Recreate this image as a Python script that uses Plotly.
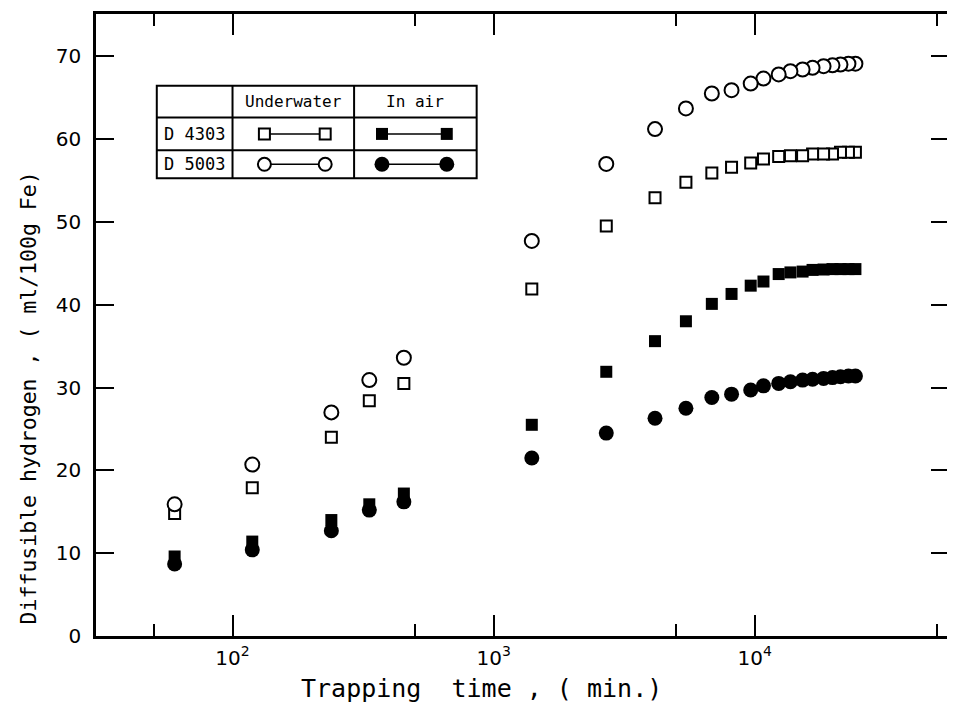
import plotly.graph_objects as go

# ---------------- data ----------------
times = [60, 119, 239, 334, 453,
         1400, 2700, 4150, 5450, 6850, 8150, 9650, 10800, 12350, 13700,
         15250, 16650, 18350, 19850, 21300, 22850, 24300]

d5003_underwater = [15.9, 20.7, 27.0, 30.9, 33.6,
                    47.7, 57.0, 61.2, 63.7, 65.5, 65.9, 66.7, 67.3, 67.8, 68.2,
                    68.4, 68.6, 68.8, 68.9, 69.0, 69.1, 69.1]
d4303_underwater = [14.8, 17.9, 24.0, 28.4, 30.5,
                    41.9, 49.5, 52.9, 54.8, 55.9, 56.6, 57.1, 57.6, 57.9, 58.0,
                    58.0, 58.2, 58.2, 58.2, 58.4, 58.4, 58.4]
d4303_air = [9.6, 11.4, 14.0, 15.9, 17.2,
             25.5, 31.9, 35.6, 38.0, 40.1, 41.3, 42.3, 42.8, 43.7, 43.9,
             44.0, 44.2, 44.25, 44.3, 44.3, 44.3, 44.3]
d5003_air = [8.7, 10.4, 12.7, 15.2, 16.2,
             21.5, 24.5, 26.3, 27.5, 28.8, 29.2, 29.7, 30.2, 30.5, 30.7,
             30.9, 31.0, 31.1, 31.2, 31.3, 31.4, 31.4]

y_ticks = [0, 10, 20, 30, 40, 50, 60, 70]
x_ticks = [100, 1000, 10000]
x_ticktext = ["10<sup>2</sup>", "10<sup>3</sup>", "10<sup>4</sup>"]
x_minor = [50, 500, 5000, 50000]

row_labels = ["D 4303", "D 5003"]
col_labels = ["Underwater", "In air"]

x_title = "Trapping  time , ( min.)"
y_title = "Diffusible hydrogen , ( ml/100g Fe)"

# ---------------- layout geometry (page pixels) ----------------
OFF = 8                       # page body margin of the html file
W, H = 955 - OFF, 707 - OFF
PL, PR, PT, PB = 96, 952, 11, 636
FONT = "DejaVu Sans Mono"
TICKFONT = "DejaVu Sans"
INK = "black"


def fx(px):
    return (px - PL) / (PR - PL)


def fy(py):
    return (PB - py) / (PB - PT)


fig = go.Figure()


def rev(a):
    return list(reversed(a))


fig.add_trace(go.Scatter(x=rev(times), y=rev(d4303_air), mode="markers",
                         marker=dict(symbol="square", size=12, color=INK,
                                     line=dict(width=0)),
                         showlegend=False))
fig.add_trace(go.Scatter(x=rev(times), y=rev(d5003_air), mode="markers",
                         marker=dict(symbol="circle", size=15, color=INK,
                                     line=dict(width=0)),
                         showlegend=False))
fig.add_trace(go.Scatter(x=rev(times), y=rev(d4303_underwater), mode="markers",
                         marker=dict(symbol="square", size=11, color="white",
                                     line=dict(width=2, color=INK)),
                         showlegend=False))
fig.add_trace(go.Scatter(x=rev(times), y=rev(d5003_underwater), mode="markers",
                         marker=dict(symbol="circle", size=14, color="white",
                                     line=dict(width=2, color=INK)),
                         showlegend=False))

# ---------------- legend table ----------------
cols = [157, 233, 355, 478]
rows = [83, 115, 148, 176]
lw = 2
shapes = []
shapes.append(dict(type="rect", xref="paper", yref="paper",
                   x0=fx(cols[0]), x1=fx(cols[3]), y0=fy(rows[0]), y1=fy(rows[3]),
                   line=dict(color=INK, width=lw), layer="below"))
for c in cols[1:3]:
    shapes.append(dict(type="line", xref="paper", yref="paper",
                       x0=fx(c), x1=fx(c), y0=fy(rows[0]), y1=fy(rows[3]),
                       line=dict(color=INK, width=lw), layer="below"))
for r in rows[1:3]:
    shapes.append(dict(type="line", xref="paper", yref="paper",
                       x0=fx(cols[0]), x1=fx(cols[3]), y0=fy(r), y1=fy(r),
                       line=dict(color=INK, width=lw), layer="below"))

row_y = [(rows[1] + rows[2]) / 2, (rows[2] + rows[3]) / 2]
sample_x = [(265, 326), (383, 448)]
styles = {
    (0, 0): dict(symbol="square", size=11, color="white", line=dict(width=2, color=INK)),
    (1, 0): dict(symbol="circle", size=13, color="white", line=dict(width=2, color=INK)),
    (0, 1): dict(symbol="square", size=12, color=INK, line=dict(width=0)),
    (1, 1): dict(symbol="circle", size=15, color=INK, line=dict(width=0)),
}
for (ri, ci), st in styles.items():
    xa, xb = sample_x[ci]
    fig.add_trace(go.Scatter(x=[fx(xa), fx(xb)], y=[fy(row_y[ri])] * 2,
                             mode="lines+markers", xaxis="x2", yaxis="y2",
                             line=dict(color=INK, width=1.5), marker=st,
                             showlegend=False, hoverinfo="skip"))

ann = []
for i, t in enumerate(col_labels):
    ann.append(dict(x=fx((cols[i + 1] + cols[i + 2]) / 2), y=fy((rows[0] + rows[1]) / 2),
                    xref="paper", yref="paper", text=t, showarrow=False,
                    xanchor="center", yanchor="middle",
                    font=dict(family=FONT, size=16, color=INK)))
for i, t in enumerate(row_labels):
    ann.append(dict(x=fx((cols[0] + cols[1]) / 2), y=fy(row_y[i]), xref="paper", yref="paper",
                    text=t, showarrow=False, xanchor="center", yanchor="middle",
                    font=dict(family=FONT, size=17, color=INK)))
ann.append(dict(x=fx(483), y=fy(689), xref="paper", yref="paper", text=x_title,
                showarrow=False, xanchor="center", yanchor="middle",
                font=dict(family=FONT, size=25, color=INK)))
ann.append(dict(x=fx(28), y=fy(397), xref="paper", yref="paper", text=y_title,
                showarrow=False, textangle=-90, xanchor="center", yanchor="middle",
                font=dict(family=FONT, size=21.5, color=INK)))

axis_common = dict(showline=True, linecolor=INK, linewidth=2.5, mirror="ticks",
                   ticks="inside", tickcolor=INK, tickwidth=2, showgrid=False,
                   zeroline=False, tickfont=dict(family=TICKFONT, size=20, color=INK))

fig.update_layout(
    width=W, height=H,
    margin=dict(l=PL - OFF, r=W - (PR - OFF), t=PT - OFF, b=H - (PB - OFF)),
    paper_bgcolor="white", plot_bgcolor="white",
    xaxis=dict(type="log", range=[1.477, 4.744], tickmode="array",
               tickvals=x_ticks, ticktext=x_ticktext, ticklen=21,
               ticklabelstandoff=2,
               minor=dict(tickvals=x_minor, ticklen=12, ticks="inside",
                          tickcolor=INK, tickwidth=2, showgrid=False),
               **axis_common),
    yaxis=dict(range=[0, 75.1], tickmode="array", tickvals=y_ticks, ticklen=18,
               ticklabelstandoff=8, **axis_common),
    xaxis2=dict(overlaying="x", range=[0, 1], visible=False, fixedrange=True),
    yaxis2=dict(overlaying="y", range=[0, 1], visible=False, fixedrange=True),
    shapes=shapes,
    annotations=ann,
)

fig.write_html("out.html")
